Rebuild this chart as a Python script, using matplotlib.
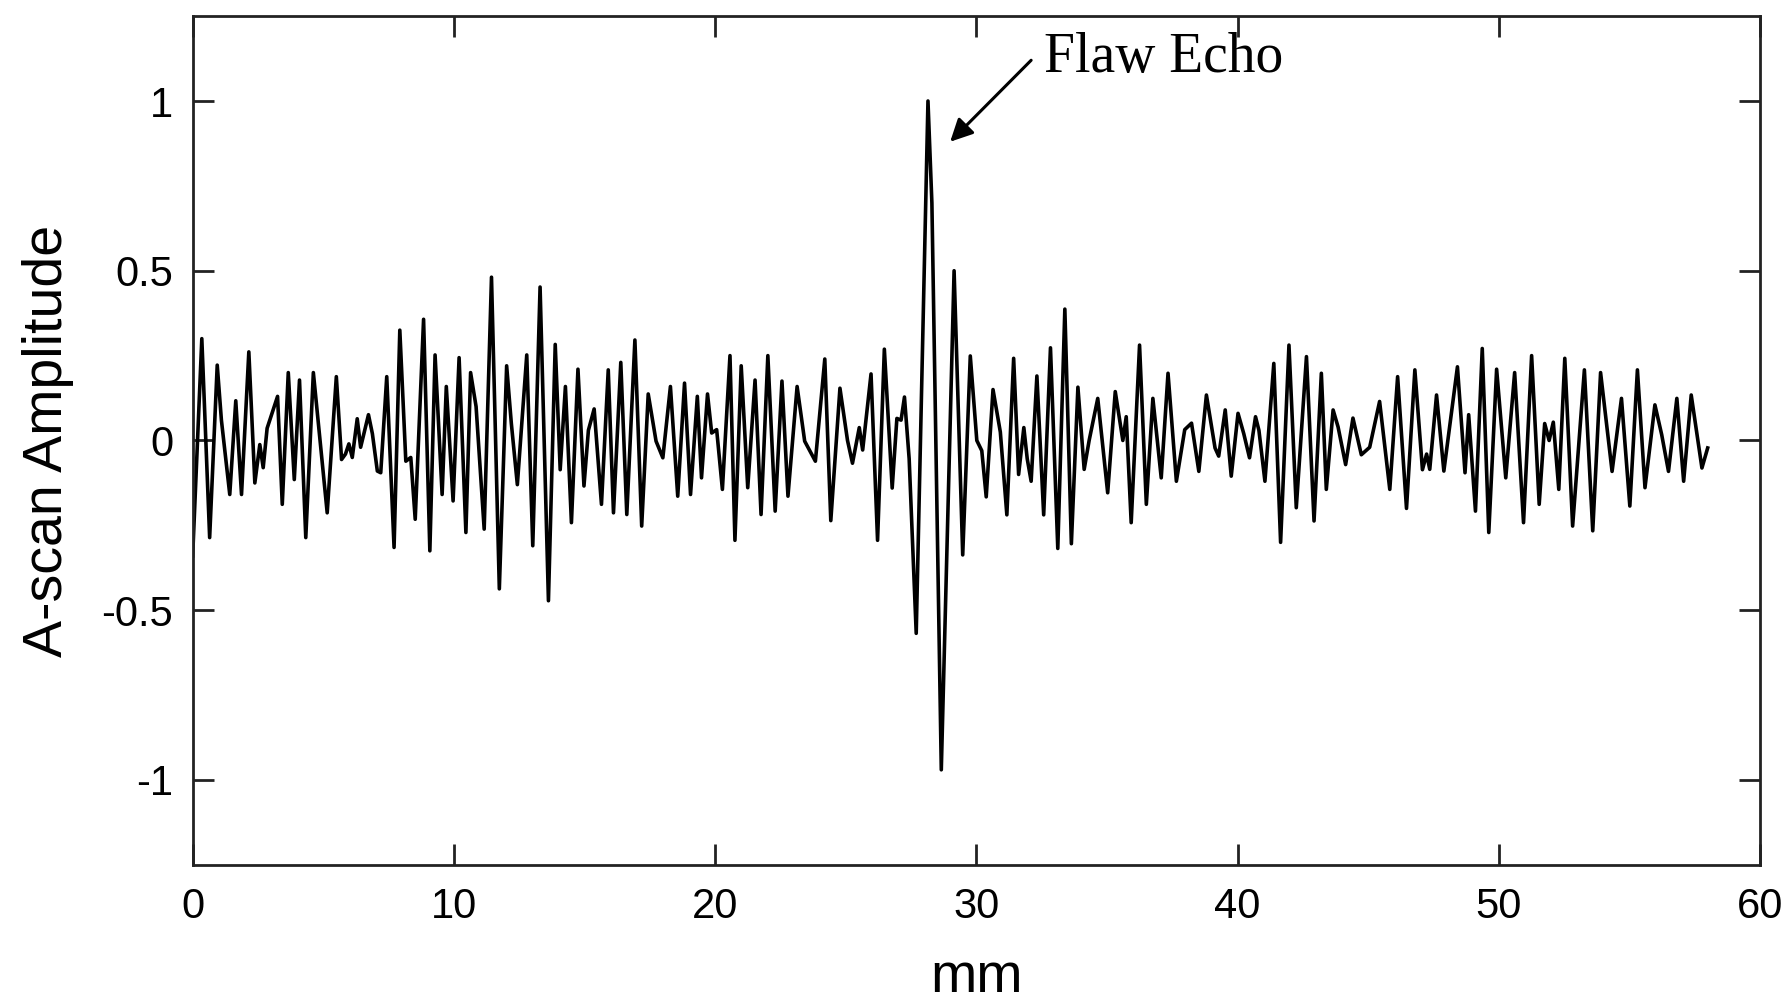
import matplotlib
matplotlib.use('Agg')
import matplotlib.pyplot as plt

# A-scan signal: depth (mm) and amplitude at each vertex
depth_mm = [
    0.0, 0.35, 0.65, 0.94, 1.10, 1.42, 1.65, 1.87, 2.15, 2.38, 2.57, 2.70, 2.85, 3.25, 3.43,
    3.66, 3.89, 4.09, 4.33, 4.62, 5.15, 5.50, 5.70, 5.85, 5.98, 6.11, 6.30, 6.43, 6.73, 6.88,
    7.07, 7.20, 7.43, 7.71, 7.93, 8.16, 8.35, 8.52, 8.84, 9.08, 9.28, 9.55, 9.71, 9.97, 10.20,
    10.46, 10.64, 10.85, 11.16, 11.44, 11.74, 12.02, 12.20, 12.43, 12.79, 13.02, 13.30, 13.62, 13.88, 14.07,
    14.27, 14.50, 14.75, 14.98, 15.15, 15.37, 15.65, 15.91, 16.11, 16.39, 16.62, 16.93, 17.19, 17.44, 17.74,
    18.00, 18.29, 18.57, 18.83, 19.06, 19.32, 19.48, 19.71, 19.87, 20.06, 20.28, 20.57, 20.76, 21.00, 21.25,
    21.53, 21.76, 22.02, 22.30, 22.56, 22.79, 23.14, 23.43, 23.84, 24.20, 24.43, 24.78, 25.07, 25.26, 25.52,
    25.65, 25.97, 26.22, 26.48, 26.78, 26.96, 27.12, 27.25, 27.43, 27.70, 28.15, 28.30, 28.66, 29.15, 29.48,
    29.77, 30.02, 30.21, 30.38, 30.64, 30.92, 31.17, 31.43, 31.62, 31.82, 31.95, 32.10, 32.32, 32.58, 32.84,
    33.12, 33.39, 33.64, 33.89, 34.13, 34.32, 34.65, 35.03, 35.32, 35.61, 35.74, 35.93, 36.25, 36.51, 36.76,
    37.08, 37.34, 37.66, 37.98, 38.24, 38.52, 38.81, 39.14, 39.28, 39.53, 39.76, 40.02, 40.24, 40.46, 40.69,
    40.82, 41.05, 41.39, 41.65, 41.97, 42.25, 42.64, 42.93, 43.21, 43.40, 43.66, 43.85, 44.14, 44.42, 44.74,
    45.06, 45.44, 45.83, 46.13, 46.47, 46.79, 47.08, 47.24, 47.36, 47.62, 47.90, 48.42, 48.71, 48.85, 49.11,
    49.37, 49.62, 49.92, 50.27, 50.61, 50.95, 51.26, 51.55, 51.76, 51.93, 52.09, 52.30, 52.53, 52.83, 53.28,
    53.60, 53.90, 54.34, 54.70, 55.02, 55.31, 55.60, 55.98, 56.24, 56.50, 56.82, 57.08, 57.37, 57.78, 58.00,
]
amplitude = [
    -0.34, 0.30, -0.286, 0.222, 0.06, -0.159, 0.117, -0.159, 0.261, -0.125, -0.012, -0.08, 0.036, 0.13, -0.188,
    0.20, -0.115, 0.178, -0.286, 0.20, -0.213, 0.188, -0.056, -0.04, -0.01, -0.05, 0.064, -0.02, 0.076, 0.02,
    -0.09, -0.095, 0.188, -0.315, 0.325, -0.061, -0.05, -0.232, 0.357, -0.325, 0.252, -0.159, 0.159, -0.178, 0.244,
    -0.271, 0.20, 0.10, -0.261, 0.481, -0.437, 0.22, 0.05, -0.13, 0.252, -0.31, 0.452, -0.472, 0.283, -0.086,
    0.159, -0.242, 0.21, -0.134, 0.03, 0.093, -0.188, 0.208, -0.213, 0.23, -0.218, 0.296, -0.252, 0.137, -0.002,
    -0.051, 0.159, -0.164, 0.169, -0.159, 0.13, -0.11, 0.137, 0.022, 0.032, -0.144, 0.25, -0.294, 0.22, -0.139,
    0.178, -0.218, 0.25, -0.208, 0.175, -0.164, 0.159, -0.002, -0.061, 0.24, -0.236, 0.154, 0.0, -0.067, 0.038,
    -0.028, 0.196, -0.294, 0.269, -0.14, 0.065, 0.06, 0.128, -0.054, -0.568, 1.0, 0.70, -0.97, 0.50, -0.337,
    0.249, 0.0, -0.03, -0.166, 0.15, 0.025, -0.219, 0.242, -0.1, 0.038, -0.054, -0.12, 0.19, -0.219, 0.273,
    -0.318, 0.387, -0.304, 0.157, -0.085, 0.0, 0.124, -0.154, 0.144, 0.0, 0.07, -0.242, 0.281, -0.188, 0.124,
    -0.11, 0.198, -0.12, 0.032, 0.051, -0.091, 0.134, -0.022, -0.046, 0.09, -0.105, 0.08, 0.02, -0.051, 0.07,
    0.03, -0.12, 0.227, -0.30, 0.281, -0.198, 0.247, -0.237, 0.198, -0.144, 0.09, 0.04, -0.071, 0.066, -0.042,
    -0.02, 0.115, -0.144, 0.188, -0.20, 0.208, -0.086, -0.04, -0.085, 0.134, -0.09, 0.217, -0.095, 0.076, -0.208,
    0.271, -0.271, 0.21, -0.11, 0.20, -0.242, 0.25, -0.188, 0.05, 0.0, 0.054, -0.144, 0.242, -0.252, 0.208,
    -0.266, 0.20, -0.091, 0.124, -0.193, 0.208, -0.139, 0.105, 0.017, -0.091, 0.124, -0.12, 0.134, -0.081, -0.022,
]

x_ticks = [0, 10, 20, 30, 40, 50, 60]
y_ticks = [-1, -0.5, 0, 0.5, 1]
y_tick_labels = ['-1', '-0.5', '0', '0.5', '1']

plt.rcParams['font.family'] = ['Liberation Sans', 'DejaVu Sans']

fig = plt.figure(figsize=(17.84, 10.08), dpi=100)
ax = fig.add_axes([0.108, 0.142, 0.8785, 0.842])

ax.plot(depth_mm, amplitude, color='black', linewidth=2.6)

# flaw echo label, arrow runs from the lower left of the text down to the peak
ax.text(32.6, 1.128, 'Flaw Echo', fontsize=40,
        family=['Liberation Serif', 'DejaVu Serif'], va='center', ha='left')
ax.annotate('', xy=(29.0, 0.88), xytext=(32.1, 1.12),
            arrowprops=dict(arrowstyle='-|>', color='black', lw=2.2,
                            mutation_scale=34, shrinkA=0, shrinkB=0))

ax.set_xlim(0, 60)
ax.set_ylim(-1.25, 1.25)
ax.set_xticks(x_ticks)
ax.set_yticks(y_ticks)
ax.set_yticklabels(y_tick_labels)
ax.tick_params(direction='in', length=15, width=2, labelsize=30,
               top=True, right=True, color='#222222')
ax.tick_params(axis='x', pad=16)
ax.tick_params(axis='y', pad=14)
for s in ax.spines.values():
    s.set_linewidth(2)
    s.set_color('#222222')

ax.set_xlabel('mm', fontsize=40, labelpad=18)
ax.set_ylabel('A-scan Amplitude', fontsize=40, labelpad=20)

fig.savefig('out.png', dpi=100)
